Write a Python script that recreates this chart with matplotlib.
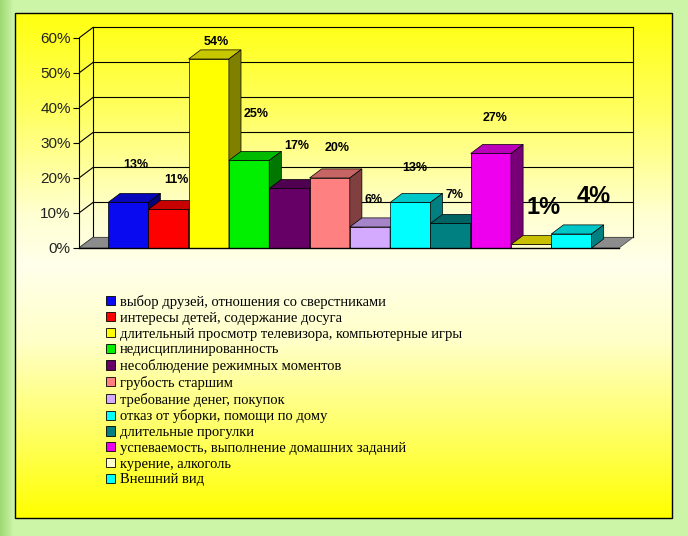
import numpy as np
import matplotlib
matplotlib.use('Agg')
import matplotlib.pyplot as plt
from matplotlib.patches import Polygon, Patch
from matplotlib.colors import to_rgb

# data
categories = [
    'выбор друзей, отношения со сверстниками',
    'интересы детей, содержание досуга',
    'длительный просмотр телевизора, компьютерные игры',
    'недисциплинированность',
    'несоблюдение режимных моментов',
    'грубость старшим',
    'требование денег, покупок',
    'отказ от уборки, помощи по дому',
    'длительные прогулки',
    'успеваемость, выполнение домашних заданий',
    'курение, алкоголь',
    'Внешний вид',
]
values = [13, 11, 54, 25, 17, 20, 6, 13, 7, 27, 1, 4]
value_labels = ['13%', '11%', '54%', '25%', '17%', '20%', '6%', '13%', '7%', '27%', '1%', '4%']
colors = ['#0a0af0', '#ff0000', '#ffff00', '#00f000', '#660066', '#ff8080',
          '#d4aaff', '#00ffff', '#008080', '#ee00ee', '#ffffcc', '#00ffff']
# the 3d top of the light yellow bar is drawn olive in the original
top_override = {10: '#c8c000'}
yticks = [0, 10, 20, 30, 40, 50, 60]
ytick_labels = ['0%', '10%', '20%', '30%', '40%', '50%', '60%']

# where the data labels sit (data coords)
label_x = [0.19, 1.19, 2.18, 3.17, 4.19, 5.18, 6.10, 7.12, 8.09, 9.10, 10.32, 11.56]
label_y = [23.7, 19.4, 58.9, 38.3, 29.1, 28.6, 13.7, 22.9, 15.1, 37.1, 11.7, 14.6]
big_labels = [10, 11]

W, H = 688, 536
fig = plt.figure(figsize=(W / 100, H / 100), dpi=100)
fig.patch.set_facecolor('#ccf5a8')

# background: green frame + yellow gradient panel
bg = fig.add_axes([0, 0, 1, 1], zorder=-10)
bg.set_xlim(0, W)
bg.set_ylim(H, 0)
bg.axis('off')
edge = np.ones((1, 40, 3))
edge[0, :, 0] = np.linspace(0.62, 0.80, 40)
edge[0, :, 1] = np.linspace(0.85, 0.96, 40)
edge[0, :, 2] = np.linspace(0.45, 0.66, 40)
bg.imshow(edge, extent=[0, 14, H, 0], aspect='auto')

px, py, pw, ph = 15, 13, 657, 505
f = np.linspace(0, 1, 256)
blue = np.interp(f, [0, 0.2, 0.4, 0.5, 0.65, 0.85, 1.0],
                 [15, 100, 210, 235, 200, 90, 0]) / 255
grad = np.ones((256, 1, 3))
grad[:, 0, 2] = blue
bg.imshow(grad, extent=[px, px + pw, py + ph, py], aspect='auto')
bg.add_patch(plt.Rectangle((px, py), pw, ph, fill=False, ec='black', lw=1))

plt.rcParams['font.family'] = ['Liberation Sans', 'DejaVu Sans']

# main axes: front y axis at x=79px, 0% at y=248px, 3.5px per percent, 40.3px per bar
ax = fig.add_axes([79 / W, 1 - 260 / H, 581 / W, 240 / H])
ax.patch.set_alpha(0)
x0, xend = -1.22, 12.18
ax.set_xlim(x0, 13.197)
ax.set_ylim(-3.43, 65.14)

# wall offset and bar depth offset (data units)
wdx, wdy = 0.347, 3.0
bdx, bdy = 0.30, 2.6

# walls
for v in yticks:
    ax.plot([x0, x0 + wdx], [v, v + wdy], color='black', lw=0.8, zorder=1)
    ax.plot([x0 + wdx, xend + wdx], [v + wdy, v + wdy], color='black', lw=0.8, zorder=1)
ax.plot([x0 + wdx, x0 + wdx], [wdy, 60 + wdy], color='black', lw=0.8, zorder=1)
ax.plot([xend + wdx, xend + wdx], [wdy, 60 + wdy], color='black', lw=0.8, zorder=1)
ax.add_patch(Polygon([(x0, 0), (xend, 0), (xend + wdx, wdy), (x0 + wdx, wdy)],
                     closed=True, fc='#8c8c8c', ec='#555555', lw=0.6, zorder=1.5))

x = np.arange(len(values))
bars = ax.bar(x, values, width=1.0, color=colors, edgecolor='black', linewidth=0.5)
for i, (b, v, c) in enumerate(zip(bars, values, colors)):
    b.set_zorder(3 + i)
    rgb = np.array(to_rgb(c))
    l, r = i - 0.5, i + 0.5
    top_c = top_override.get(i, rgb * 0.78)
    top = Polygon([(l, v), (r, v), (r + bdx, v + bdy), (l + bdx, v + bdy)],
                  closed=True, fc=top_c, ec='black', lw=0.5, zorder=3 + i)
    side = Polygon([(r, 0), (r + bdx, bdy), (r + bdx, v + bdy), (r, v)],
                   closed=True, fc=rgb * 0.5, ec='black', lw=0.5, zorder=3 + i)
    ax.add_patch(top)
    ax.add_patch(side)

for i, txt in enumerate(value_labels):
    size = 17 if i in big_labels else 9
    ax.text(label_x[i], label_y[i], txt, ha='center', va='center',
            fontsize=size, fontweight='bold', color='black', zorder=20)

# axes: only the front y axis and the front floor line
for s in ['top', 'right']:
    ax.spines[s].set_visible(False)
ax.spines['left'].set_bounds(0, 60)
ax.spines['left'].set_linewidth(0.8)
ax.spines['bottom'].set_position(('data', 0))
ax.spines['bottom'].set_bounds(x0, xend)
ax.spines['bottom'].set_linewidth(1.0)
ax.spines['bottom'].set_zorder(30)
ax.set_xticks([])
ax.set_yticks(yticks)
ax.set_yticklabels(ytick_labels)
ax.tick_params(axis='y', length=4, width=0.8, pad=2, labelsize=11, labelcolor='#222222')

handles = [Patch(facecolor=c, edgecolor='black', linewidth=0.6) for c in colors]
fig.legend(handles, categories, loc='upper left', bbox_to_anchor=(106 / W, 1 - 295 / H),
           frameon=False, borderpad=0, borderaxespad=0, handlelength=0.6, handleheight=0.6,
           handletextpad=0.35, labelspacing=0.19,
           prop={'family': 'Liberation Serif', 'size': 10.5})

fig.savefig('out.png', dpi=100)
